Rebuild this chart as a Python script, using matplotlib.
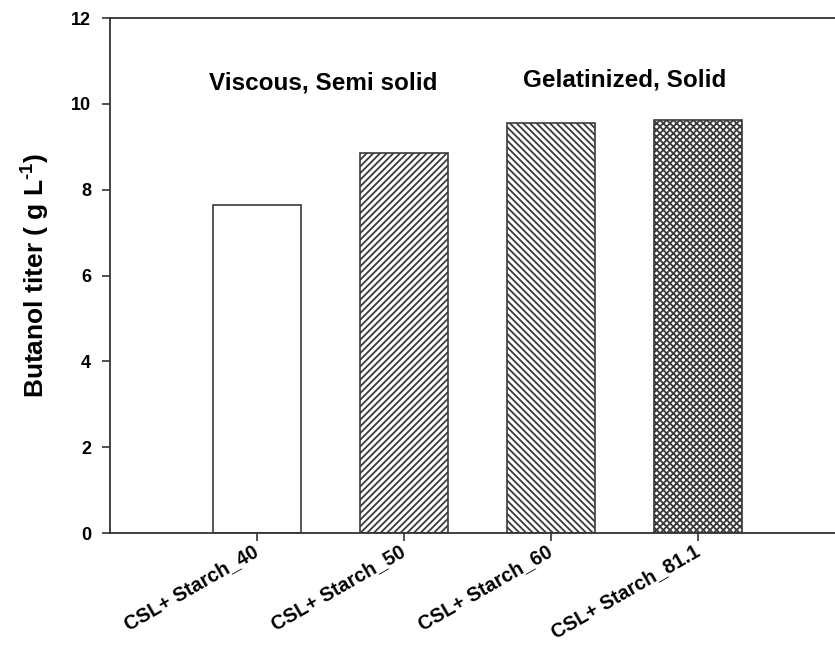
import matplotlib
matplotlib.use("Agg")
import matplotlib.pyplot as plt

plt.rcParams['font.family'] = ['Liberation Sans', 'DejaVu Sans']
plt.rcParams['font.weight'] = 'bold'
plt.rcParams['mathtext.fontset'] = 'custom'
plt.rcParams['mathtext.rm'] = 'Liberation Sans:bold'
plt.rcParams['mathtext.bf'] = 'Liberation Sans:bold'
plt.rcParams['mathtext.default'] = 'bf'
plt.rcParams['hatch.linewidth'] = 1.3
plt.rcParams['hatch.color'] = '#2a2a2a'

# data
conditions = ['CSL+ Starch_40', 'CSL+ Starch_50', 'CSL+ Starch_60', 'CSL+ Starch_81.1']
titer = [7.64, 8.86, 9.55, 9.63]
hatches = ['', '/////', '\\\\\\\\\\', 'xxxxx']
notes = ['Viscous, Semi solid', 'Gelatinized, Solid']
note_x = [1.45, 3.50]
note_y = [10.48, 10.55]

fig = plt.figure(figsize=(8.35, 6.46), dpi=100)
ax = fig.add_axes([0.1317, 0.1749, 0.880, 0.7972])

pos = [i + 1 for i in range(len(conditions))]
for p, v, h in zip(pos, titer, hatches):
    ax.bar(p, v, 0.6, color='white', edgecolor='#3a3a3a', linewidth=1.2, hatch=h)

for t, x, y in zip(notes, note_x, note_y):
    ax.text(x, y, t, ha='center', va='center', fontsize=17.5, fontweight='bold')

ax.set_xlim(0, 5)
ax.set_ylim(0, 12)
ax.set_yticks([0, 2, 4, 6, 8, 10, 12])
ax.set_xticks(pos)
ax.set_xticklabels(conditions, rotation=30, ha='right', va='center',
                   rotation_mode='anchor', fontsize=14.2, fontweight='bold')
ax.tick_params(axis='x', length=6, width=1.2, pad=6, color='#333333')
ax.tick_params(axis='y', length=5.5, width=1.2, pad=8, labelsize=13, color='#333333')
for lab in ax.get_yticklabels():
    lab.set_fontweight('bold')

ax.set_ylabel(r"Butanol titer ( g L$^{\text{-}1}$)", fontsize=19, fontweight='bold', labelpad=14)

for s in ['left', 'bottom', 'top']:
    ax.spines[s].set_linewidth(1.3)
    ax.spines[s].set_color('#333333')
ax.spines['right'].set_visible(False)

fig.savefig("out.png", dpi=100)
